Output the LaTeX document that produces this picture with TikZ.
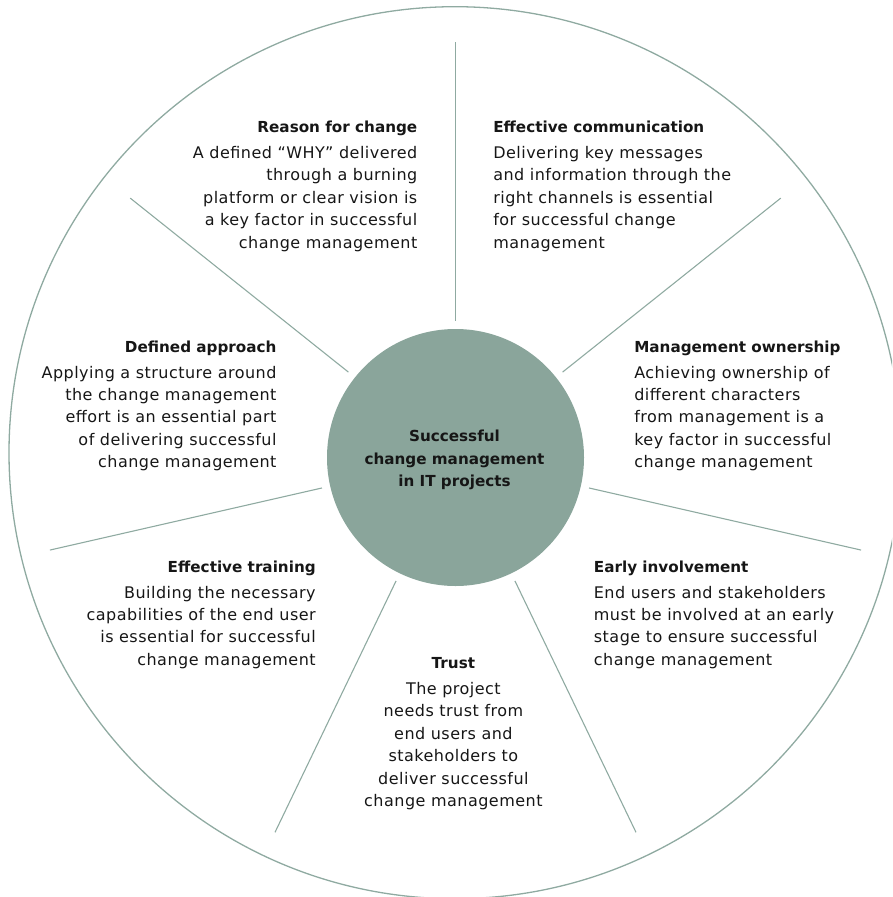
\documentclass[tikz,border=0pt]{standalone}
\usepackage{fontspec}
\setmainfont{DejaVu Sans}
\newfontfamily\bodyfont[LetterSpace=3]{DejaVu Sans}
\usetikzlibrary{calc}
\definecolor{sage}{HTML}{8AA59B}
\definecolor{spokecol}{HTML}{8FAAA1}
\definecolor{ink}{HTML}{161616}
\newcommand{\hd}[1]{{\normalfont\fontsize{15.2}{22.4}\selectfont\bfseries\rule{0pt}{13pt}#1}}
\begin{document}
\begin{tikzpicture}[x=1pt,y=-1pt,
  blk/.style={inner sep=0pt, outer sep=0pt, text=ink, font=\bodyfont\fontsize{16}{22.4}\selectfont},
  hubtext/.style={inner sep=0pt, outer sep=0pt, text=ink, align=center, font=\fontsize{15.2}{22.4}\selectfont\bfseries},
  spk/.style={draw=spokecol, line width=1.1pt}]
\useasboundingbox (0,0) rectangle (892,897);
\clip (0,0) rectangle (892,897);
\coordinate (c) at (455.5,457.5);
\node[circle, draw=spokecol, line width=1.3pt, minimum size=892pt, inner sep=0pt] (outer) at (455,452.7) {};
\node[circle, fill=sage, minimum size=257pt, inner sep=0pt] (hub) at (c) {};
\foreach \i in {0,...,6} {
  \pgfmathsetmacro\a{90+\i*360/7}
  \coordinate (in\i) at ($(c)+({137*cos(\a)},{-137*sin(\a)})$);
  \coordinate (out\i) at ($(c)+({416*cos(\a)},{-416*sin(\a)})$);
  \draw[spk] (in\i) -- (out\i);
}
\node[hubtext, anchor=north] (hubtxt) at (454.5,428.7)
  {\rule{0pt}{13pt}Successful\\ change management\\ in IT projects};
\node[blk, align=right, anchor=north east] (reason) at (417.3,119.5)
  {\hd{Reason for change}\\[3.6pt]
   A defined “WHY” delivered\\ through a burning\\ platform or clear vision is\\
   a key factor in successful\\ change management};
\node[blk, align=left, anchor=north west] (comm) at (493.3,119.5)
  {\hd{Effective communication}\\[3.6pt]
   Delivering key messages\\ and information through the\\ right channels is essential\\
   for successful change\\ management};
\node[blk, align=right, anchor=north east] (approach) at (276.5,339)
  {\hd{Defined approach}\\[3.6pt]
   Applying a structure around\\ the change management\\ effort is an essential part\\
   of delivering successful\\ change management};
\node[blk, align=left, anchor=north west] (owner) at (634.3,339)
  {\hd{Management ownership}\\[3.6pt]
   Achieving ownership of\\ different characters\\ from management is a\\
   key factor in successful\\ change management};
\node[blk, align=right, anchor=north east] (training) at (315.7,559)
  {\hd{Effective training}\\[3.6pt]
   Building the necessary\\ capabilities of the end user\\ is essential for successful\\
   change management};
\node[blk, align=left, anchor=north west] (early) at (593.9,559)
  {\hd{Early involvement}\\[3.6pt]
   End users and stakeholders\\ must be involved at an early\\ stage to ensure successful\\
   change management};
\node[blk, align=center, anchor=north] (trust) at (453.4,655.5)
  {\hd{Trust}\\[3.6pt]
   The project\\ needs trust from\\ end users and\\ stakeholders to\\
   deliver successful\\ change management};
\end{tikzpicture}
\end{document}
